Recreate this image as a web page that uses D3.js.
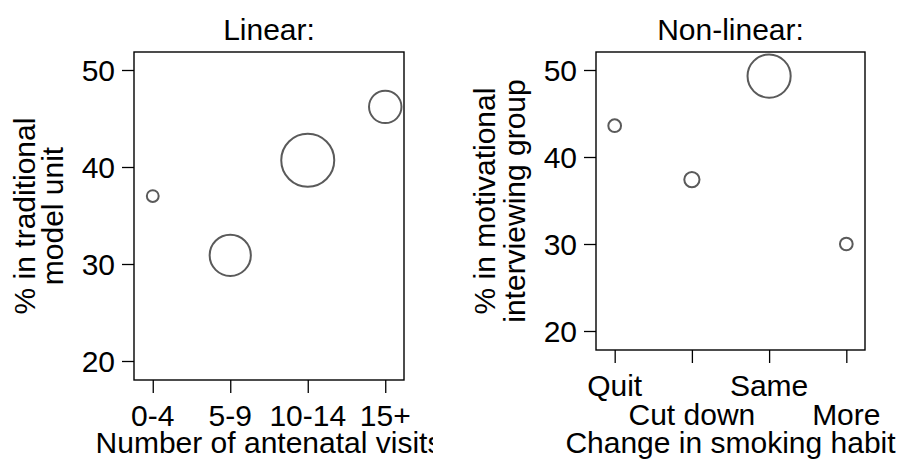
<!DOCTYPE html>
<html>
<head>
<meta charset="utf-8">
<script src="https://cdn.jsdelivr.net/npm/d3@7"></script>
<style>
  body { margin: 0; background: #fff; }
  svg text { font-family: "Liberation Sans", Arial, sans-serif; fill: #000; }
</style>
</head>
<body>
<svg id="chart" width="902" height="459"></svg>
<script>
// left panel: antenatal visits
const visitCats = ['0-4', '5-9', '10-14', '15+']
const visitPct = [37.0, 30.9, 40.7, 46.2]
const visitN = [20, 242, 400, 150]

// right panel: smoking habit change
const smokeCats = ['Quit', 'Cut down', 'Same', 'More']
const smokePct = [43.6, 37.4, 49.3, 30.0]
const smokeN = [23, 33, 265, 23]

const yTicks = [20, 30, 40, 50]

const svg = d3.select('#chart')
const fontSize = 30

// one bubble size scale shared by both panels
const rScale = d3.scaleSqrt().domain([0, 400]).range([0, 26.5])

svg.append('defs').append('clipPath').attr('id', 'clipLeft')
  .append('rect').attr('x', 0).attr('y', 0).attr('width', 433).attr('height', 459)

/**
 * Draws one bubble panel.
 */
function panel(g, opts) {
  const x = d3.scalePoint().domain(opts.cats).range([opts.x0, opts.x1]).padding(0.242)
  const y = d3.scaleLinear().domain([20, 50]).range(opts.yRange)

  // title
  g.append('text')
    .attr('x', (opts.x0 + opts.x1) / 2)
    .attr('y', 40)
    .attr('text-anchor', 'middle')
    .attr('font-size', fontSize)
    .text(opts.title)

  // y axis
  const ya = g.append('g')
    .attr('transform', 'translate(' + opts.x0 + ',0)')
    .call(d3.axisLeft(y).tickValues(yTicks).tickSize(12).tickPadding(7))
  ya.select('.domain').remove()
  ya.selectAll('line').attr('stroke', '#000').attr('stroke-width', 1.3)
  ya.selectAll('text').attr('font-size', fontSize).attr('font-family', null)
    .attr('dy', '0.36em')

  // x axis
  const xa = g.append('g')
    .attr('transform', 'translate(0,' + opts.y1 + ')')
    .call(d3.axisBottom(x).tickSize(13).tickFormat(''))
  xa.select('.domain').remove()
  xa.selectAll('line').attr('stroke', '#000').attr('stroke-width', 1.3)

  opts.cats.forEach((c, i) => {
    g.append('text')
      .attr('x', x(c))
      .attr('y', opts.labelY[i])
      .attr('text-anchor', 'middle')
      .attr('font-size', fontSize)
      .text(c)
  })

  // frame
  g.append('rect')
    .attr('x', opts.x0).attr('y', opts.y0)
    .attr('width', opts.x1 - opts.x0).attr('height', opts.y1 - opts.y0)
    .attr('fill', 'none').attr('stroke', '#000').attr('stroke-width', 1.4)

  // bubbles
  g.selectAll('circle.bub')
    .data(opts.cats.map((c, i) => ({ c: c, v: opts.vals[i], n: opts.sizes[i] })))
    .enter()
    .append('circle')
    .attr('class', 'bub')
    .attr('cx', (d) => x(d.c))
    .attr('cy', (d) => y(d.v))
    .attr('r', (d) => rScale(d.n))
    .attr('fill', 'none')
    .attr('stroke', '#5a5a5a')
    .attr('stroke-width', 2)

  // y title, two lines rotated
  opts.yTitle.forEach((t, i) => {
    g.append('text')
      .attr('transform', 'translate(' + opts.yTitleX[i] + ',' + ((opts.y0 + opts.y1) / 2) + ') rotate(-90)')
      .attr('text-anchor', 'middle')
      .attr('font-size', fontSize)
      .text(t)
  })

  // x title
  g.append('text')
    .attr('x', (opts.x0 + opts.x1) / 2)
    .attr('y', 453)
    .attr('text-anchor', 'middle')
    .attr('font-size', fontSize)
    .text(opts.xTitle)
}

panel(svg.append('g').attr('clip-path', 'url(#clipLeft)'), {
  cats: visitCats, vals: visitPct, sizes: visitN,
  x0: 134, x1: 404, y0: 52, y1: 380, yRange: [361, 70],
  title: 'Linear:',
  yTitle: ['% in traditional', 'model unit'], yTitleX: [35, 63],
  xTitle: 'Number of antenatal visits',
  labelY: [426, 426, 426, 426]
})

panel(svg.append('g'), {
  cats: smokeCats, vals: smokePct, sizes: smokeN,
  x0: 596, x1: 865, y0: 52, y1: 350, yRange: [331, 70],
  title: 'Non-linear:',
  yTitle: ['% in motivational', 'interviewing group'], yTitleX: [495, 525],
  xTitle: 'Change in smoking habit',
  labelY: [396, 425, 396, 425]
})
</script>
</body>
</html>
